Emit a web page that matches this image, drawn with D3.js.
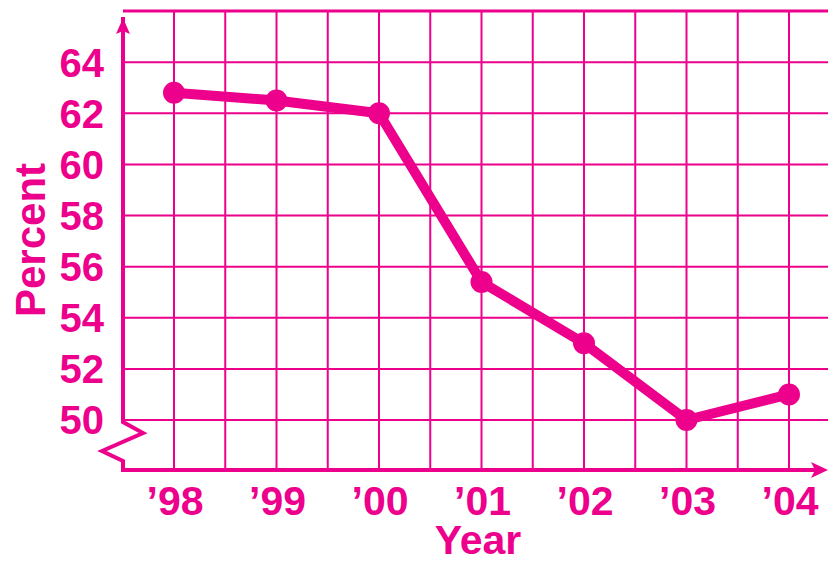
<!DOCTYPE html>
<html><head><meta charset="utf-8">
<script src="https://cdn.jsdelivr.net/npm/d3@7"></script>
<style>body{margin:0;background:#fff}svg{display:block}text{font-family:"Liberation Sans",Arial,Helvetica,sans-serif;font-weight:bold;fill:#EC008C}</style>
</head><body><svg id="c" width="828" height="563"></svg>
<script>
const years = ["'98","'99","'00","'01","'02","'03","'04"];
const percent = [62.8, 62.5, 62.0, 55.4, 53.0, 50.0, 51.0];
const yTicks = [50, 52, 54, 56, 58, 60, 62, 64];
const color = "#EC008C";
const svg = d3.select("#c");
const x0 = 123, xEnd = 828, yAxis = 470;
const xs = d3.scaleLinear().domain([0, 6]).range([174, 789]);
const y = d3.scaleLinear().domain([50, 66]).range([420, 11]);
const g = svg.append("g");
// vertical grid lines at half steps
d3.range(0, 6.01, 0.5).forEach(v => {
  g.append("line").attr("x1", xs(v)).attr("x2", xs(v)).attr("y1", y(66)).attr("y2", yAxis)
   .attr("stroke", color).attr("stroke-width", 2);
});
// horizontal grid lines
d3.range(50, 66.01, 2).forEach(v => {
  g.append("line").attr("x1", x0).attr("x2", xEnd).attr("y1", y(v)).attr("y2", y(v))
   .attr("stroke", color).attr("stroke-width", v === 66 ? 3 : 2);
});
// y axis with break
const brk = [[x0, y(66) + 6], [x0, 422], [143, 433], [102, 451], [x0, 461], [x0, yAxis], [817, yAxis]];
g.append("path").attr("d", d3.line()(brk)).attr("fill", "none").attr("stroke", color)
 .attr("stroke-width", 4).attr("stroke-linejoin", "miter");
// arrows
g.append("path").attr("d", `M${x0},18 L${x0 + 7},34 L${x0},31 L${x0 - 7},34 Z`).attr("fill", color);
g.append("path").attr("d", `M828,${yAxis} L811,${yAxis - 8} L815,${yAxis} L811,${yAxis + 8} Z`).attr("fill", color);
// y tick labels
yTicks.forEach(v => {
  g.append("text").attr("x", 104).attr("y", y(v)).attr("dy", "0.36em").attr("text-anchor", "end")
   .attr("font-size", 40).text(v);
});
// x tick labels
years.forEach((t, i) => {
  g.append("text").attr("x", xs(i) + 1).attr("y", 515).attr("text-anchor", "middle")
   .attr("font-size", 41).text(t.replace("'", "\u2019"));
});
// axis titles
g.append("text").attr("x", 478).attr("y", 554).attr("text-anchor", "middle").attr("font-size", 41).text("Year");
g.append("text").attr("transform", "translate(45,240) rotate(-90)").attr("text-anchor", "middle")
 .attr("font-size", 42).text("Percent");
// data line
const line = d3.line().x((d, i) => xs(i)).y(d => y(d));
g.append("path").datum(percent).attr("d", line).attr("fill", "none").attr("stroke", color)
 .attr("stroke-width", 10).attr("stroke-linejoin", "round");
g.selectAll("circle.pt").data(percent).enter().append("circle")
 .attr("cx", (d, i) => xs(i)).attr("cy", d => y(d)).attr("r", 11).attr("fill", color);
</script></body></html>
